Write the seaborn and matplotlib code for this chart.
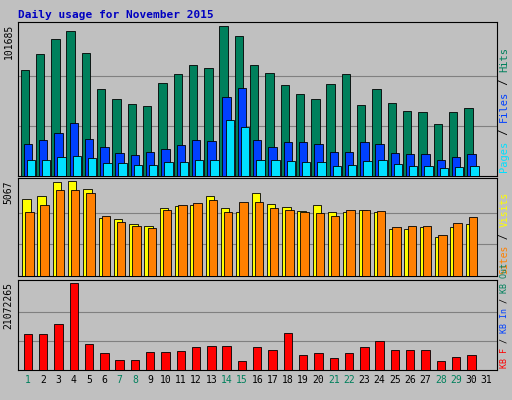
import numpy as np
import matplotlib
matplotlib.use('Agg')
import matplotlib.pyplot as plt
import seaborn as sns

days = list(range(1, 31))
weekend = [1, 7, 8, 14, 15, 21, 22, 28, 29]
hits = [71940, 83000, 93380, 98910, 83700, 59490, 52570, 49110, 47730, 62940, 69170, 75400, 73320, 101685, 95450,
        75400, 69860, 61560, 56030, 52570, 62250, 69170, 48420, 59490, 49800, 44270, 43580, 35280, 43580, 46340]
files = [21440, 24210, 29050, 35970, 24900, 20060, 15910, 14530, 16600, 18680, 20750, 24210, 23520, 53950, 60180,
         24210, 20060, 22830, 22830, 21440, 16600, 16600, 22830, 21440, 15910, 15220, 15220, 11070, 13140, 15220]
pages = [11070, 11070, 13140, 13830, 12450, 8990, 8990, 7610, 7610, 9680, 9680, 11070, 11070, 38040, 33200,
         11070, 11070, 10380, 9680, 9680, 6920, 7610, 10380, 11070, 8300, 6920, 6920, 5530, 6230, 6920]
visits = [4076, 4241, 5012, 5067, 4627, 3084, 3029, 2754, 2644, 3635, 3745, 3801, 4241, 3635, 3415,
          4406, 3856, 3690, 3470, 3801, 3415, 3415, 3525, 3415, 2479, 2479, 2589, 2093, 2589, 2754]
sites = [3415, 3801, 4572, 4572, 4406, 3195, 2864, 2644, 2534, 3525, 3801, 3911, 4021, 3415, 3966,
         3966, 3635, 3525, 3415, 3360, 3195, 3525, 3525, 3470, 2589, 2644, 2644, 2203, 2809, 3140]
kbytes = [8575900, 8575900, 11026170, 21072265, 6370680, 4165440, 2450260, 2450260, 4410470, 4410470,
          4655490, 5635600, 5880620, 5880620, 2205230, 5635600, 4900520, 8820940, 3675390, 4165440,
          2940310, 4165440, 5635600, 7105750, 4900520, 4900520, 4900520, 2205230, 3185340, 3675390]

sns.set_style('white')
plt.rcParams['font.family'] = ['DejaVu Sans Mono']
fig = plt.figure(figsize=(5.12, 4.0), dpi=100, facecolor='#c0c0c0')

def panel(rect, series, top_label):
    ax = fig.add_axes(rect, facecolor='#c0c0c0')
    ymax = max(max(s) for s, _, _ in series)
    for vals, color, off in series:
        ax.bar(np.array(days) + off, vals, width=0.55, color=color, edgecolor='black', linewidth=0.6, zorder=3)
    for k in (1, 2):
        ax.axhline(ymax * k / 3, color='#808080', lw=0.8, zorder=1)
    ax.set_xlim(0.35, 31.65)
    ax.set_ylim(0, ymax * 1.03)
    ax.set_xticks([]); ax.set_yticks([])
    for s in ax.spines.values():
        s.set_color('black'); s.set_linewidth(0.8)
    fig.text(rect[0] - 0.018, rect[1] + rect[3] - 0.005, top_label, rotation=90, va='top', ha='center',
             fontsize=7, color='black')
    return ax

ax1 = panel([0.035, 0.56, 0.935, 0.385],
            [(hits, '#00805c', -0.2), (files, '#0040ff', 0.0), (pages, '#00e0ff', 0.2)], '101685')
ax2 = panel([0.035, 0.31, 0.935, 0.245],
            [(visits, '#ffff00', -0.1), (sites, '#ff8000', 0.1)], '5067')
ax3 = panel([0.035, 0.075, 0.935, 0.225], [(kbytes, '#ff0000', 0.0)], '21072265')

for d in range(1, 32):
    ax3.text(d, -0.06, str(d), transform=ax3.get_xaxis_transform(), ha='center', va='top', fontsize=7,
             color='#00805c' if d in weekend else 'black')

fig.text(0.035, 0.975, 'Daily usage for November 2015', color='#0000c0', fontsize=8, fontweight='bold',
         ha='left', va='top')

def side_label(ybot, parts, fs):
    y = ybot
    step = fs * 0.6 / 72 * 100 / 400
    for txt, col in parts:
        fig.text(0.985, y, txt, rotation=90, color=col, fontsize=fs, ha='center', va='bottom')
        y += len(txt) * step

side_label(0.57, [('Pages', '#00e0ff'), (' / ', 'black'), ('Files', '#0040ff'), (' / ', 'black'), ('Hits', '#00805c')], 7.5)
side_label(0.315, [('Sites', '#ff8000'), (' / ', 'black'), ('Visits', '#ffff00')], 7)
side_label(0.08, [('KB F', '#ff0000'), (' / ', 'black'), ('KB In', '#0040ff'), (' / ', 'black'), ('KB Out', '#00805c')], 6)

fig.savefig('out.png', dpi=100, facecolor='#c0c0c0')
